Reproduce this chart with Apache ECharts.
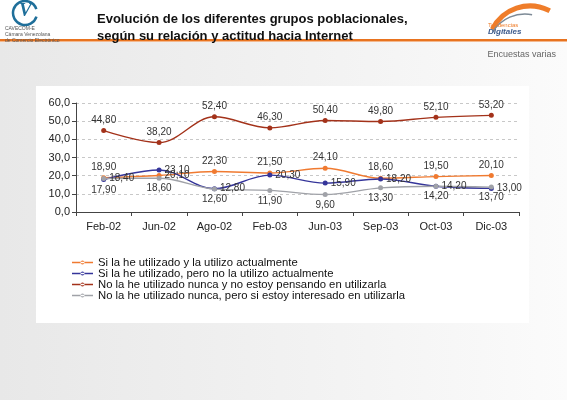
<!DOCTYPE html>
<html>
<head>
<meta charset="utf-8">
<style>
  html, body { margin: 0; padding: 0; background: #fff; }
  #chart { width: 567px; height: 400px; }
</style>
<script src="https://cdn.jsdelivr.net/npm/echarts@6/dist/echarts.min.js"></script>
</head>
<body>
<div id="chart"></div>
<script>
  var categories = ["Feb-02", "Jun-02", "Ago-02", "Feb-03", "Jun-03", "Sep-03", "Oct-03", "Dic-03"];
  var seriesNames = [
    "Si la he utilizado y la utilizo actualmente",
    "Si la he utilizado, pero no la utilizo actualmente",
    "No la he utilizado nunca y no estoy pensando en utilizarla",
    "No la he utilizado nunca, pero si estoy interesado en utilizarla"
  ];
  var usaAhora = [18.9, 20.1, 22.3, 21.5, 24.1, 18.6, 19.5, 20.1];
  var usoAntes = [17.9, 23.1, 12.8, 20.3, 15.9, 18.2, 14.2, 13.0];
  var noInteres = [44.8, 38.2, 52.4, 46.3, 50.4, 49.8, 52.1, 53.2];
  var interesado = [18.4, 18.6, 12.6, 11.9, 9.6, 13.3, 14.2, 13.7];
  var yTicks = [0, 10, 20, 30, 40, 50, 60];

  // where each value label sits, per series
  var posUsaAhora = ["top", "right", "top", "top", "top", "top", "top", "top"];
  var posUsoAntes = ["bottom", "right", "right", "right", "right", "right", "right", "right"];
  var posNoInteres = ["top", "top", "top", "top", "top", "top", "top", "top"];
  var posInteresado = ["right", "bottom", "bottom", "bottom", "bottom", "bottom", "bottom", "bottom"];

  var colors = ["#f07a30", "#35359a", "#a3321a", "#a0a2a8"];

  function comma(v, d) {
    return v.toFixed(d).replace(".", ",");
  }

  function makeSeries(idx, values, positions) {
    return {
      name: seriesNames[idx],
      type: "line",
      smooth: 0.35,
      symbol: "circle",
      symbolSize: 5,
      lineStyle: { width: 1.4, color: colors[idx] },
      itemStyle: { color: colors[idx] },
      data: values.map(function (v, i) {
        return {
          value: v,
          label: { position: positions[i] }
        };
      }),
      label: {
        show: true,
        fontSize: 10,
        color: "#333",
        distance: 3,
        formatter: function (p) { return comma(p.value, 2); }
      }
    };
  }

  var chart = echarts.init(document.getElementById("chart"));
  var option = {
    backgroundColor: "#ffffff",
    animation: false,
    textStyle: { fontFamily: "Liberation Sans, Arial, sans-serif" },
    graphic: [
      // slide background
      {
        type: "rect", z: -20, silent: true,
        shape: { x: 0, y: 42, width: 567, height: 358 },
        style: {
          fill: new echarts.graphic.LinearGradient(0, 0, 1, 0, [
            { offset: 0, color: "#e8e8e8" },
            { offset: 0.55, color: "#f2f2f2" },
            { offset: 1, color: "#fbfbfb" }
          ])
        }
      },
      {
        type: "rect", z: -19, silent: true,
        shape: { x: 36, y: 86, width: 493, height: 237 },
        style: { fill: "#ffffff" }
      },
      {
        type: "rect", z: -18, silent: true,
        shape: { x: 0, y: 39, width: 567, height: 2.5 },
        style: { fill: "#e8731f" }
      },
      // left logo
      {
        type: "arc", z: -10, silent: true,
        shape: { cx: 25, cy: 13, r: 12, startAngle: 0.3, endAngle: 5.95 },
        style: { stroke: "#1f6f9a", lineWidth: 2.5, fill: null }
      },
      {
        type: "text", z: -10, silent: true,
        style: { x: 19, y: 2, text: "V", font: "italic bold 19px Liberation Serif", fill: "#1f6f9a" }
      },
      {
        type: "text", z: -10, silent: true,
        style: { x: 5, y: 26, text: "CAVECOM-E\nCámara Venezolana\nde Comercio Electrónico", font: "5px Liberation Sans", fill: "#555", lineHeight: 6 }
      },
      // right logo
      {
        type: "arc", z: -10, silent: true,
        shape: { cx: 530, cy: 48, r: 42, startAngle: 3.6, endAngle: 5.2 },
        style: { stroke: "#ef7d2a", lineWidth: 5, fill: null }
      },
      {
        type: "arc", z: -10, silent: true,
        shape: { cx: 525, cy: 52, r: 38, startAngle: 3.7, endAngle: 4.9 },
        style: { stroke: "#7d8a96", lineWidth: 1.5, fill: null }
      },
      {
        type: "text", z: -10, silent: true,
        style: { x: 488, y: 22, text: "Tendencias", font: "6px Liberation Sans", fill: "#ef7d2a" }
      },
      {
        type: "text", z: -10, silent: true,
        style: { x: 488, y: 28, text: "Digitales", font: "italic bold 8px Liberation Sans", fill: "#3c5a8c" }
      },
      // title
      {
        type: "text", silent: true,
        style: {
          x: 97, y: 11,
          text: "Evolución de los diferentes grupos poblacionales,\nsegún su relación y actitud hacia Internet",
          font: "bold 13px Liberation Sans", fill: "#111", lineHeight: 17
        }
      },
      {
        type: "text", silent: true,
        style: { x: 556, y: 50, text: "Encuestas varias", align: "right", font: "9px Liberation Sans", fill: "#666" }
      }
    ],
    grid: { left: 76, right: 48, top: 103, bottom: 188 },
    legend: {
      orient: "vertical",
      left: 67,
      top: 252,
      itemWidth: 21,
      itemHeight: 6,
      itemGap: 0,
      textStyle: { fontSize: 11.3, color: "#111", lineHeight: 11 },
      data: seriesNames.map(function (n) {
        return { name: n, icon: "path://M0,2.3H21V3.7H0Z M8.5,3a2,2 0 1,0 4,0a2,2 0 1,0 -4,0Z" };
      })
    },
    xAxis: {
      type: "category",
      data: categories,
      boundaryGap: true,
      axisLine: { lineStyle: { color: "#444", width: 1 } },
      axisTick: { show: true, length: 4, lineStyle: { color: "#444" } },
      axisLabel: { fontSize: 11, color: "#222", margin: 9 }
    },
    yAxis: {
      type: "value",
      min: yTicks[0],
      max: yTicks[yTicks.length - 1],
      interval: 10,
      axisLine: { show: true, lineStyle: { color: "#444", width: 1 } },
      axisTick: { show: true, length: 4, lineStyle: { color: "#444" } },
      axisLabel: { fontSize: 11, color: "#222", margin: 6, formatter: function (v) { return comma(v, 1); } },
      splitLine: { lineStyle: { color: "#c8c8c8", type: [3, 3] } }
    },
    series: [
      makeSeries(0, usaAhora, posUsaAhora),
      makeSeries(1, usoAntes, posUsoAntes),
      makeSeries(2, noInteres, posNoInteres),
      makeSeries(3, interesado, posInteresado)
    ]
  };
  chart.setOption(option);
</script>
</body>
</html>
